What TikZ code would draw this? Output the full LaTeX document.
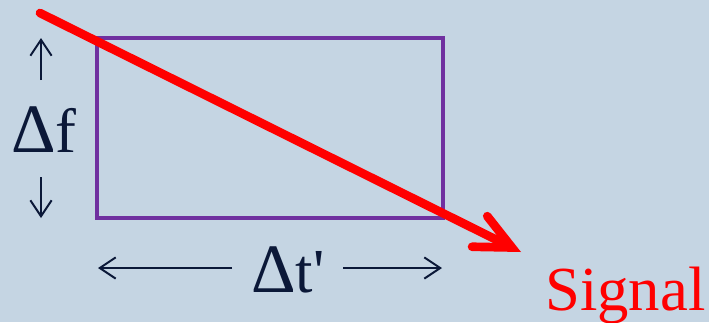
\documentclass[tikz,border=0pt]{standalone}
\usepackage{fontspec}
\setmainfont{Liberation Serif}
\usetikzlibrary{positioning,arrows.meta}
\definecolor{bgblue}{HTML}{C5D5E3}
\definecolor{ink}{HTML}{0B1838}
\definecolor{boxpurple}{HTML}{7030A0}
\definecolor{sigred}{HTML}{FF0000}
\tikzset{
  big/.style     ={font=\fontsize{47}{50}\selectfont, inner sep=0pt, text=ink},
  span/.style    ={-{Straight Barb[length=4.2mm,width=5.6mm]}, line width=1.5pt, draw=ink},
  window/.style  ={draw=boxpurple, line width=2.6pt},
  chirp/.style   ={-{Straight Barb[length=9.5mm,width=9mm,line cap=round]}, line width=6.5pt,
                   draw=sigred, line cap=round},
}

\begin{document}
\begin{tikzpicture}[x=0.75pt,y=-0.75pt]
  \fill[bgblue] (0,0) rectangle (709,322);
  \useasboundingbox (0,0) rectangle (709,322);
  % time-frequency window
  \coordinate (wtl) at (97,38);
  \coordinate (wbr) at (443,218);
  \draw[window] (wtl) rectangle (wbr);
  % labels
  \node[big,anchor=base west] (df) at (11,152) {{\fontsize{52}{50}\selectfont Δ}f};
  \node[big,anchor=base west] (dt) at (251,292) {{\fontsize{52}{50}\selectfont Δ}t\textquotesingle};
  \node[big,text=sigred,anchor=base west] (sig) at (545,310) {Signal};
  % extent arrows
  \coordinate (uplo) at (41,80);   \coordinate (uphi) at (41,38);
  \coordinate (dnhi) at (41,177);  \coordinate (dnlo) at (41,218);
  \coordinate (lft) at (98,268);   \coordinate (lfte) at (232,268);
  \coordinate (rgt) at (442,268);  \coordinate (rgts) at (343,268);
  \draw[span] (uplo) -- (uphi);
  \draw[span] (dnhi) -- (dnlo);
  \draw[span] (lfte) -- (lft);
  \draw[span] (rgts) -- (rgt);
  % signal
  \coordinate (s0) at (40,13);
  \coordinate (s1) at (521,252);
  \draw[chirp] (s0) -- (s1);
\end{tikzpicture}
\end{document}
